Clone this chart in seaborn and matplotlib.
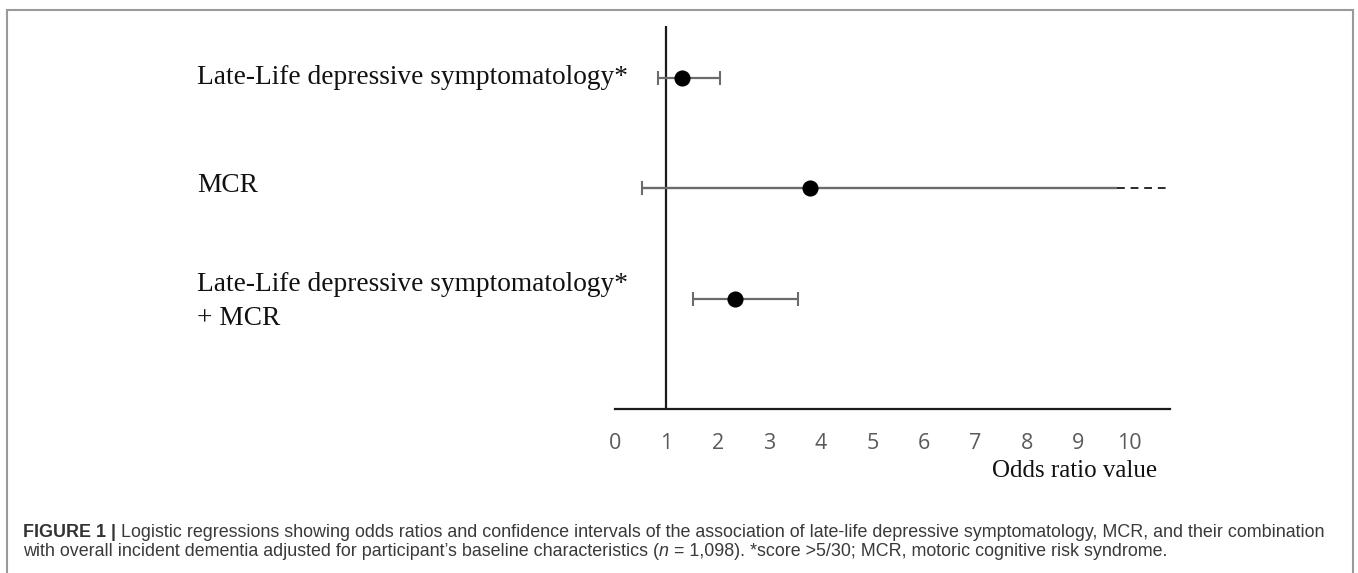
import matplotlib
matplotlib.use("Agg")
import matplotlib.pyplot as plt
import seaborn as sns
import pandas as pd
from matplotlib.patches import Rectangle

# ---------------- data ----------------
labels = ["Late-Life depressive symptomatology*", "MCR",
          "Late-Life depressive symptomatology*\n+ MCR"]
odds_ratio = [1.31, 3.79, 2.34]
ci_low = [0.84, 0.53, 1.51]
ci_high = [2.04, 9.75, 3.55]          # MCR upper bound shown truncated
truncated = [False, True, False]
mcr_dash_end = 10.76                  # dashed continuation of the MCR interval
xticks = list(range(0, 11))
row_pos = [3, 2, 1]                   # vertical order (top to bottom)

caption_line1 = [("FIGURE 1 | ", dict(weight="bold", color="#333333")),
                 ("Logistic regressions showing odds ratios and confidence intervals of the association of "
                  "late-life depressive symptomatology, MCR, and their combination", dict(color="#3a3a3a"))]
caption_line2 = [("with overall incident dementia adjusted for participant\u2019s baseline characteristics (",
                  dict(color="#3a3a3a")),
                 ("n", dict(style="italic", color="#3a3a3a")),
                 (" = 1,098). *score >5/30; MCR, motoric cognitive risk syndrome.", dict(color="#3a3a3a"))]

# ---------------- figure ----------------
sns.set_style("white")
plt.rcParams["font.family"] = ["Liberation Serif", "DejaVu Sans"]

W, H = 1358, 573
fig = plt.figure(figsize=(W / 100, H / 100), dpi=100)
fx = lambda px: px / W
fy = lambda py: 1 - py / H

ax = fig.add_axes([fx(615), fy(409), fx(1170) - fx(615), fy(26) - fy(409)])
ax.set_xlim(0, 10.78)
ax.set_ylim(0, 3.47)

df = pd.DataFrame({"label": labels, "OR": odds_ratio, "lo": ci_low,
                   "hi": ci_high, "trunc": truncated, "pos": row_pos})

ci_color = "#6b6b6b"
for _, r in df.iterrows():
    if r["trunc"]:
        ax.plot([r["lo"], r["hi"]], [r["pos"], r["pos"]], color=ci_color, lw=1.7,
                solid_capstyle="butt", zorder=2)
        ax.plot([r["lo"]], [r["pos"]], marker="|", ms=10, mew=1.5, color=ci_color, zorder=2)
        ax.plot([r["hi"], mcr_dash_end], [r["pos"], r["pos"]], color="#2a2a2a", lw=1.4,
                linestyle=(0, (4, 3)), zorder=2)
    else:
        ax.errorbar(r["OR"], r["pos"], xerr=[[r["OR"] - r["lo"]], [r["hi"] - r["OR"]]],
                    fmt="none", ecolor=ci_color, elinewidth=1.6, capsize=5, capthick=1.5, zorder=2)

sns.scatterplot(data=df, x="OR", y="pos", color="black", s=135, edgecolor="black",
                linewidth=0, zorder=3, ax=ax, legend=False)

ax.axvline(1, color="#1a1a1a", lw=1.6, zorder=1)

for s in ["left", "top", "right"]:
    ax.spines[s].set_visible(False)
ax.spines["bottom"].set_color("#1a1a1a")
ax.spines["bottom"].set_linewidth(1.6)
ax.set_yticks([])
ax.set_xticks(xticks)
ax.set_xticklabels([str(t) for t in xticks], family="Open Sans", fontsize=15.5, color="#5a5a5a")
ax.tick_params(axis="x", length=0, pad=17)
ax.set_xlabel("")
ax.set_ylabel("")

# row labels (left aligned text)
label_fs = 19.7
fig.text(fx(197), fy(84), labels[0], fontsize=label_fs, ha="left", va="baseline", color="#111111")
fig.text(fx(197), fy(192), labels[1], fontsize=label_fs, ha="left", va="baseline", color="#111111")
l3a, l3b = labels[2].split("\n")
fig.text(fx(197), fy(291), l3a, fontsize=label_fs, ha="left", va="baseline", color="#111111")
fig.text(fx(197), fy(325), l3b, fontsize=label_fs, ha="left", va="baseline", color="#111111")

fig.text(fx(1157), fy(477), "Odds ratio value", fontsize=18, ha="right", va="baseline", color="#111111")

# caption
renderer = fig.canvas.get_renderer()
def draw_pieces(x_px, y_px, pieces, size):
    x = x_px
    for s, kw in pieces:
        t = fig.text(fx(x), fy(y_px), s, fontsize=size, ha="left", va="baseline",
                     family=["Liberation Sans", "DejaVu Sans"], **kw)
        x += t.get_window_extent(renderer).width

cap_fs = 12.9
draw_pieces(23, 537, caption_line1, cap_fs)
draw_pieces(23, 556, caption_line2, cap_fs)

# frame around the figure panel
fig.add_artist(Rectangle((fx(7), fy(600)), fx(1353) - fx(7), fy(10) - fy(600),
                         transform=fig.transFigure, fill=False, edgecolor="#9a9a9a",
                         lw=1.5, clip_on=False))

fig.savefig("out.png", dpi=100)
